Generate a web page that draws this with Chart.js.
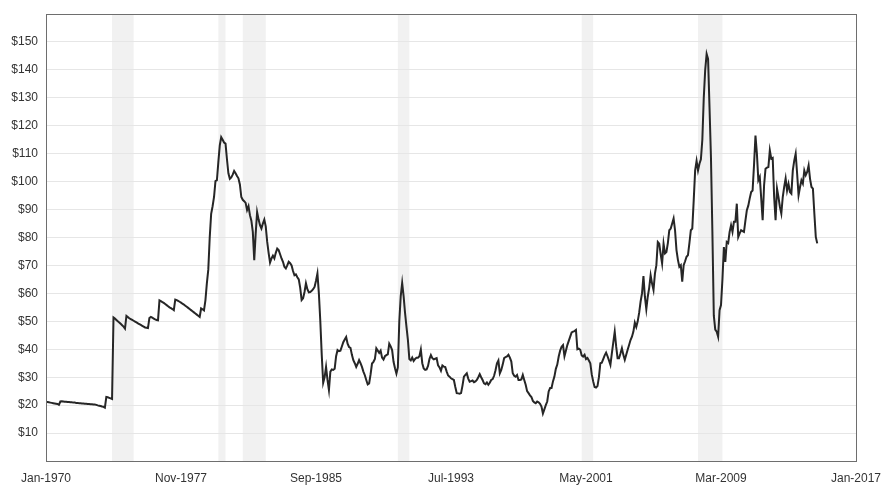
<!DOCTYPE html>
<html>
<head>
<meta charset="utf-8">
<script src="https://cdn.jsdelivr.net/npm/chart.js@4.4.1/dist/chart.umd.min.js"></script>
<style>
html,body{margin:0;padding:0;background:#fff;}
#wrap{width:882px;height:495px;position:relative;}
</style>
</head>
<body>
<div id="wrap"><canvas id="c"></canvas></div>
<script>
// Monthly oil price (inflation adjusted), starting Jan 1970
const startYear = 1970;
const monthNames = ['Jan','Feb','Mar','Apr','May','Jun','Jul','Aug','Sep','Oct','Nov','Dec'];

const prices1970s = [
  21.2,21.1,21.0,20.9,20.8,20.7,20.6,20.5,20.4,20.1,21.3,21.4,
  21.3,21.2,21.2,21.1,21.1,21.0,21.0,20.9,20.9,20.8,20.8,20.7,
  20.7,20.6,20.6,20.5,20.5,20.4,20.4,20.3,20.3,20.2,20.2,20.1,
  19.9,19.8,19.7,19.5,19.4,19.1,22.9,22.8,22.6,22.4,22.2,51.4,
  51.0,50.5,50.0,49.6,49.1,48.6,48.1,47.4,51.9,51.5,51.1,50.8,
  50.5,50.2,49.9,49.6,49.3,49.0,48.7,48.4,48.1,47.8,47.7,47.6,
  51.2,51.6,51.3,51.0,50.7,50.5,50.4,57.5,57.2,56.9,56.6,56.2,
  55.8,55.4,55.0,54.7,54.4,54.0,57.8,57.6,57.3,57.0,56.7,56.3,
  56.0,55.6,55.2,54.8,54.4,54.0,53.6,53.2,52.8,52.4,52.0,51.6,
  54.6,54.3,53.9,57.5,63.6,68.5,80.0,88.5,91.2,94.5,100.2,100.5
];
const prices1980s = [
  107,113,115.9,115,114,113.6,108,103,101,101.5,102.5,103.8,
  103,102,101.2,99,94.5,93.5,93.0,92.4,89.8,91.2,88,86,
  82,71.9,81.4,89.1,86.5,84.4,83.2,85,86.4,84,78.5,74.5,
  71,72.5,73.5,72.5,74.5,76,75.5,74,72.5,71.3,69.5,68.9,
  70,71.3,70.8,70,68,66.5,66.8,65.8,65,62,57.6,58.2,
  60.5,63.6,61.5,60.4,60.5,60.9,61.5,62.3,64.5,67.1,60,50,
  38,28,30,33.7,29,25.4,32,32.8,32.6,33,37.5,39.7,
  39.3,39.5,41,42.5,43.5,44.4,42,40.8,40.5,38,36.1,35,
  33.7,34.8,36.1,35,33.7,32,30.7,29,27.4,27.8,31,34.9,
  35.5,36.5,40.3,39.5,38.7,39.5,37,36.3,37.5,37.9,38.2,42
];
const prices1990s = [
  41,39.7,35.5,33.2,31.3,33.5,50,59,63.7,59,53,48,
  43.3,36.5,36,37,35.8,36.5,37,37,37.5,39.9,35,33.1,
  32.6,32.8,34,36.5,37.9,36.8,36.4,36.6,36.8,34.2,33.5,32.3,
  34.2,33.8,33.6,32,30.6,30.2,29.6,29.3,29,26.5,24.3,24.2,
  24.1,24.3,27,30.2,30.8,31.4,29.5,28.4,28.6,28.8,28.2,28.5,
  29,30,31.1,30,29,27.8,27.5,28.1,27.3,28,29,29.3,
  30.5,32.5,35,36,31.4,32.6,34.5,36.8,37.2,37.4,38,37,
  35.6,31.4,30.5,30.2,30.8,29,29,29.2,30.8,29,27.3,25,
  24.3,23.5,22.9,21.5,21,20.7,21.3,21,20.5,19.5,17,18.5,
  20,21.3,24.9,26.1,26.1,28.5,30.2,33,34.5,37.4,39.5,40.9
];
const prices2000s = [
  41.5,37.5,39.5,41.5,43,44.5,46,46.3,46.5,46.9,40,40.2,
  39.8,37.8,37.4,38,36.5,36.9,36,35,31,28.5,26.5,26.3,
  26.8,30,35,35.2,36.5,37.8,38.8,37.5,36,34.4,38.5,42.5,
  46.3,41,36.8,36.8,38.5,40.4,38,36.2,38,39.8,41.5,43.3,
  44.5,46.3,49.5,48,50,53,57,60,66.2,58.8,54.3,58.8,
  62,66.5,63.5,61.2,67.1,70.1,78.4,77.8,74,70.7,77.8,74.3,
  74.8,78,82.6,83.2,85,86.8,82.6,75.5,72,69.5,70.1,64.2,
  70.1,71.5,73.1,73.7,78,82.6,83.2,93.3,104,107.4,104,106.4,
  108,115,130,140,145.7,143.9,126.6,108.8,82,52,47,46.3,
  44.5,54,55.8,65,76.6,71.3,78.4,78,82,84.4,82,85.6
];
const prices2010s = [
  85.6,92.1,80.2,81.5,82.6,82.3,82,86,89.8,91.4,94,96.3,
  96.8,106,116.5,110,100.5,101.7,94,86.2,98.7,104.6,105,105.2,
  111.2,108.2,108.5,94.5,86.2,97.5,94.5,91,88.6,94.5,98.1,101.1,
  96.8,99.2,96.3,95.7,104,107.5,110,102.9,95.1,98,100.5,99.3,
  104,102.3,103.5,105.8,101,98.1,97.5,88.6,80.2,77.9
];

// Recessions as [start month, end month] counted from Jan 1970
const recessions = [[46,61],[120,125],[137,153],[245,253],[373,381],[454,471]];

// Axes
const xMin = 0, xMax = 564, xStep = 94;     // Jan-1970 .. Jan-2017
const yMin = 0, yMax = 160, yStep = 10;

const prices = [].concat(prices1970s, prices1980s, prices1990s, prices2000s, prices2010s);
const points = prices.map((v, i) => ({ x: i, y: v }));

function monthLabel(m) {
  const y = startYear + Math.floor(m / 12);
  return monthNames[m % 12] + '-' + y;
}

const bandsPlugin = {
  id: 'recessionBands',
  beforeDraw(chart) {
    const { ctx, chartArea, scales } = chart;
    ctx.save();
    ctx.fillStyle = '#f1f1f1';
    recessions.forEach(([a, b]) => {
      const x1 = scales.x.getPixelForValue(a);
      const x2 = scales.x.getPixelForValue(b);
      ctx.fillRect(x1, chartArea.top, x2 - x1, chartArea.bottom - chartArea.top);
    });
    ctx.restore();
  }
};

const framePlugin = {
  id: 'frame',
  afterDraw(chart) {
    const { ctx, chartArea } = chart;
    ctx.save();
    ctx.strokeStyle = '#6e6e6e';
    ctx.lineWidth = 1;
    const l = Math.round(chartArea.left) + 0.5;
    const t = Math.round(chartArea.top) + 0.5;
    const r = Math.round(chartArea.right) + 0.5;
    const b = Math.round(chartArea.bottom) + 0.5;
    ctx.strokeRect(l, t, r - l, b - t);
    ctx.restore();
  }
};

const font = { family: "'Liberation Sans', Arial, sans-serif", size: 12 };

new Chart(document.getElementById('c'), {
  type: 'line',
  data: {
    datasets: [{
      data: points,
      borderColor: '#262626',
      borderWidth: 2,
      pointRadius: 0,
      tension: 0,
      fill: false
    }]
  },
  options: {
    responsive: true,
    maintainAspectRatio: false,
    animation: false,
    layout: { padding: { top: 14, right: 26, left: 0, bottom: 0 } },
    plugins: { legend: { display: false }, tooltip: { enabled: false } },
    scales: {
      x: {
        type: 'linear',
        min: xMin, max: xMax,
        afterFit(scale) { scale.height = 34; scale.paddingLeft = 0; scale.paddingRight = 0; },
        grid: { display: false, drawTicks: false },
        border: { display: false },
        ticks: {
          stepSize: xStep,
          autoSkip: false,
          maxRotation: 0,
          padding: 10,
          color: '#333',
          font: font,
          callback: v => monthLabel(v)
        }
      },
      y: {
        min: yMin, max: yMax,
        afterFit(scale) { scale.width = 46; scale.paddingTop = 0; scale.paddingBottom = 0; },
        grid: {
          drawTicks: false,
          color: ctx => (ctx.tick && (ctx.tick.value === yMin || ctx.tick.value === yMax)) ? 'rgba(0,0,0,0)' : '#e6e6e6'
        },
        border: { display: false },
        ticks: {
          stepSize: yStep,
          padding: 8,
          color: '#333',
          font: font,
          callback: v => (v === yMin || v === yMax) ? '' : '$' + v
        }
      }
    }
  },
  plugins: [bandsPlugin, framePlugin]
});
</script>
</body>
</html>
